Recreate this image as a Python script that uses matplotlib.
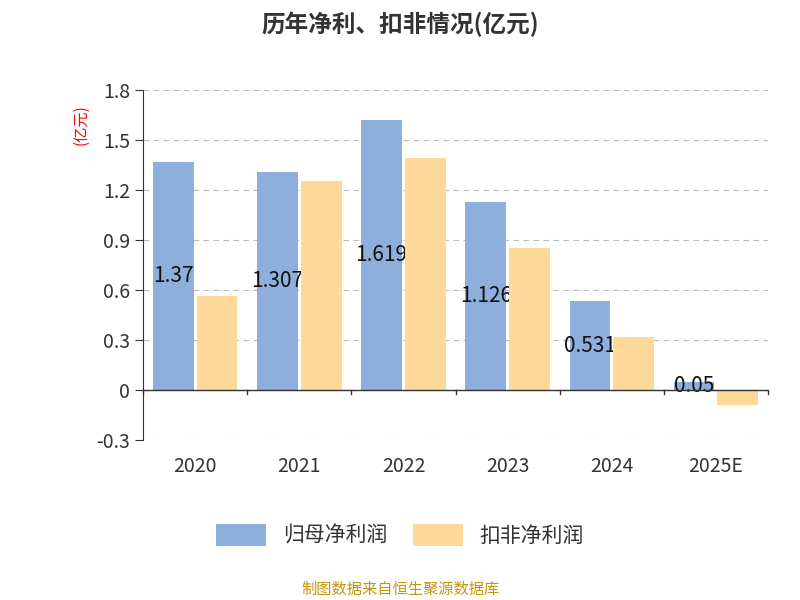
import matplotlib.pyplot as plt
import numpy as np

plt.rcParams['font.family'] = ['Noto Sans CJK SC', 'DejaVu Sans']

years = ['2020', '2021', '2022', '2023', '2024', '2025E']
net_profit = [1.37, 1.307, 1.619, 1.126, 0.531, 0.05]
deducted = [0.565, 1.255, 1.392, 0.852, 0.318, -0.09]
labels = ['1.37', '1.307', '1.619', '1.126', '0.531', '0.05']

fig = plt.figure(figsize=(8, 6), dpi=100)
ax = fig.add_axes([0.179, 0.267, 0.781, 0.583])

x = np.arange(len(years))
w = 0.39
ax.bar(x - 0.21, net_profit, w, color='#8eaedb', zorder=2, label='归母净利润')
ax.bar(x + 0.21, deducted, w, color='#ffd99a', zorder=4, label='扣非净利润')
for xi, v, t in zip(x, net_profit, labels):
    ax.text(xi - 0.21, v / 2, t, ha='center', va='center', fontsize=15, color='#111111', zorder=3)

ax.set_ylim(-0.3, 1.8)
ax.set_xlim(-0.5, 5.5)
ax.set_yticks([-0.3, 0, 0.3, 0.6, 0.9, 1.2, 1.5, 1.8])
ax.set_yticklabels(['-0.3', '0', '0.3', '0.6', '0.9', '1.2', '1.5', '1.8'])
ax.yaxis.grid(True, linestyle=(0, (5, 4)), color='#bbbbbb', zorder=0)
ax.axhline(0, color='#333333', lw=1, zorder=5)
ax.set_xticks(x)
ax.set_xticklabels(years)
ax.tick_params(axis='x', length=0, labelsize=14, colors='#333333', pad=12)
ax.tick_params(axis='y', labelsize=14, colors='#333333', length=6)
for xb in np.arange(-0.5, 6, 1):
    ax.plot([xb, xb], [0, -0.025], color='#333333', lw=1, clip_on=False, zorder=5)
for s in ['top', 'right', 'bottom']:
    ax.spines[s].set_visible(False)
ax.spines['left'].set_color('#333333')

ax.text(-0.1, 0.9, '(亿元)', transform=ax.transAxes, rotation=90, color='red', fontsize=11, ha='center', va='center')
fig.text(0.5, 0.96, '历年净利、扣非情况(亿元)', ha='center', va='center', fontsize=17, fontweight='bold', color='#333333')
fig.legend(loc='center', bbox_to_anchor=(0.5, 0.108), ncol=2, frameon=False, fontsize=15,
           handlelength=2.4, handleheight=1.3, columnspacing=1.2, labelcolor='#333333')
fig.text(0.5, 0.018, '制图数据来自恒生聚源数据库', ha='center', va='center', fontsize=11, color='#c8940a')

plt.savefig('out.png', dpi=100)
